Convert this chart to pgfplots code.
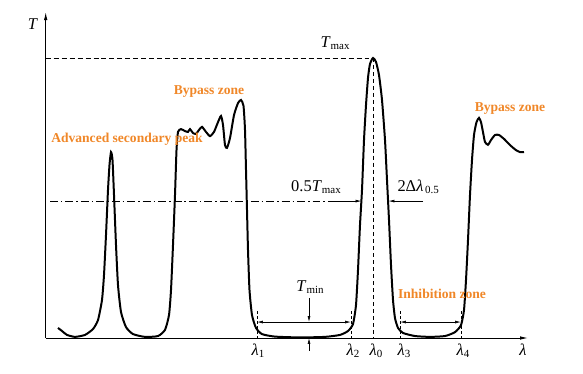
\documentclass[border=0pt]{standalone}
\usepackage{pgfplots}
\pgfplotsset{compat=1.18}
\usepackage{fontspec}
\setmainfont{Liberation Serif}
\usetikzlibrary{arrows.meta}
\definecolor{org}{RGB}{240,135,40}
\newcommand\mylbl[1]{{\fontsize{16.5}{18}\selectfont #1}}
\newcommand\mysub[1]{\raisebox{-0.45ex}{\fontsize{11}{12}\selectfont #1}}
\newcommand\myora[1]{{\fontsize{13.6}{15}\selectfont\bfseries\color{org}#1}}
\pgfplotstableread{
x y
58 0.036
62 0.025
67 0.011
75 0.004
85 0.011
93 0.032
98 0.064
102 0.136
104 0.225
106 0.368
108 0.529
109.5 0.618
111 0.664
112.5 0.636
114 0.511
116 0.332
118 0.189
121 0.093
126 0.039
133 0.014
145 0.004
158 0.007
165 0.029
169 0.082
171 0.171
173 0.332
175 0.511
176.5 0.671
178 0.736
181 0.746
185 0.739
188 0.736
190 0.746
193 0.732
196 0.729
199 0.743
202 0.754
206 0.736
210 0.721
214 0.736
218 0.771
221 0.793
223 0.761
225 0.689
227 0.679
230 0.714
234 0.796
238 0.839
241 0.850
243.5 0.829
245 0.743
246 0.600
247 0.457
248 0.314
249.5 0.171
252 0.082
256 0.036
262 0.014
275 0.005
300 0.002
325 0.004
340 0.011
348 0.025
353 0.050
356 0.118
358 0.243
360 0.404
362 0.529
364 0.707
366 0.832
368 0.929
370 0.979
373 1.000
376 0.986
379 0.939
382 0.850
385 0.707
387 0.564
389 0.421
391 0.261
393 0.136
395 0.071
398 0.036
403 0.018
415 0.007
430 0.004
445 0.007
455 0.021
461 0.046
464 0.100
466 0.207
468 0.350
470 0.511
472 0.636
474 0.725
476.5 0.771
479 0.786
481 0.771
483 0.735
485 0.700
488 0.690
491 0.707
495 0.725
499 0.725
504 0.711
510 0.689
516 0.671
520 0.664
524 0.664
}\curve
\begin{document}
\begin{tikzpicture}
\begin{axis}[
  scale only axis, width=583bp, height=374bp,
  xmin=0, xmax=583, ymin=-0.12857, ymax=1.20714,
  hide axis, clip=false,
  axis line style={draw=none}
]
\path (axis cs:0,-0.12857) rectangle (axis cs:583,1.20714);
% axes
\draw[line width=0.9pt,-{Latex[length=8pt,width=3.5pt]}] (axis cs:45.7,0) -- (axis cs:45.7,1.164);
\draw[line width=0.9pt,-{Latex[length=8pt,width=3.5pt]}] (axis cs:45.7,0) -- (axis cs:528,0);
\node at (axis cs:33,1.120) {\mylbl{\textit{T}}};
\node at (axis cs:523,-0.043) {\mylbl{\textit{λ}}};
% Tmax
\draw[line width=0.7pt,dash pattern=on 5pt off 3pt] (axis cs:45.7,1) -- (axis cs:373,1);
\draw[line width=0.7pt,dash pattern=on 4pt off 3pt] (axis cs:373,1) -- (axis cs:373,0);
\node at (axis cs:335,1.054) {\mylbl{\textit{T}}\mysub{max}};
% half max
\draw[line width=0.7pt,dash pattern=on 8pt off 3pt on 1.5pt off 3pt] (axis cs:50,0.489) -- (axis cs:328,0.489);
\draw[line width=0.7pt,-{Latex[length=6pt,width=3pt]}] (axis cs:328,0.489) -- (axis cs:361.5,0.489);
\draw[line width=0.7pt,-{Latex[length=6pt,width=3pt]}] (axis cs:423,0.489) -- (axis cs:388.5,0.489);
\node at (axis cs:316,0.539) {\mylbl{0.5\textit{T}}\mysub{max}};
\node[anchor=west] at (axis cs:394,0.539) {\mylbl{2Δ\textit{λ}}\,\mysub{0.5}};
% Tmin
\draw[line width=0.6pt,dash pattern=on 3pt off 2pt] (axis cs:257,0.096) -- (axis cs:257,0);
\draw[line width=0.6pt,dash pattern=on 3pt off 2pt] (axis cs:351,0.096) -- (axis cs:351,0);
\draw[line width=0.7pt,{Latex[length=6pt,width=3pt]}-{Latex[length=6pt,width=3pt]}] (axis cs:257,0.057) -- (axis cs:351,0.057);
\draw[line width=0.7pt,-{Latex[length=6pt,width=3pt]}] (axis cs:309,0.143) -- (axis cs:309,0.057);
\draw[line width=0.7pt,-{Latex[length=6pt,width=3pt]}] (axis cs:309,-0.046) -- (axis cs:309,0);
\node at (axis cs:310,0.182) {\mylbl{\textit{T}}\mysub{min}};
% inhibition
\draw[line width=0.6pt,dash pattern=on 3pt off 2pt] (axis cs:400,0.096) -- (axis cs:400,0);
\draw[line width=0.6pt,dash pattern=on 3pt off 2pt] (axis cs:461,0.096) -- (axis cs:461,0);
\draw[line width=0.7pt,{Latex[length=6pt,width=3pt]}-{Latex[length=6pt,width=3pt]}] (axis cs:400,0.057) -- (axis cs:461,0.057);
% lambda labels
\node at (axis cs:258,-0.045) {\mylbl{\textit{λ}}\mysub{1}};
\node at (axis cs:353,-0.045) {\mylbl{\textit{λ}}\mysub{2}};
\node at (axis cs:376,-0.045) {\mylbl{\textit{λ}}\mysub{0}};
\node at (axis cs:404,-0.045) {\mylbl{\textit{λ}}\mysub{3}};
\node at (axis cs:463,-0.045) {\mylbl{\textit{λ}}\mysub{4}};
% curve
\addplot[line width=2pt, black, smooth, tension=0.35] table {\curve};
% orange labels
\node at (axis cs:127,0.711) {\myora{Advanced secondary peak}};
\node at (axis cs:209,0.879) {\myora{Bypass zone}};
\node at (axis cs:510,0.818) {\myora{Bypass zone}};
\node at (axis cs:442,0.157) {\myora{Inhibition zone}};
\end{axis}
\end{tikzpicture}
\end{document}
